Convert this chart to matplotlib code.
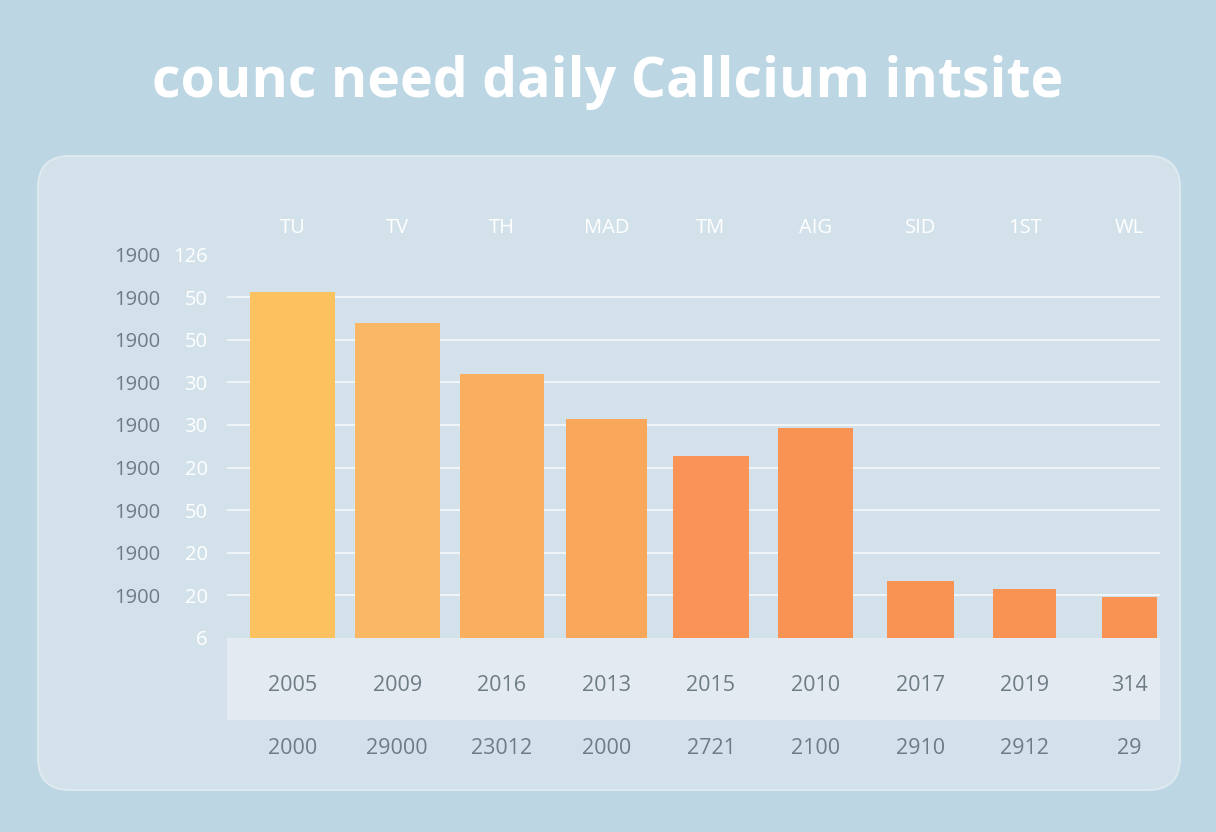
import matplotlib
matplotlib.use("Agg")
import matplotlib.pyplot as plt
from matplotlib.patches import FancyBboxPatch, Rectangle
import matplotlib.transforms as mtransforms

# ---- data ----
title = "counc need daily Callcium intsite"
categories = ["TU", "TV", "TH", "MAD", "TM", "AIG", "SID", "1ST", "WL"]
values = [8.12, 7.39, 6.20, 5.14, 4.27, 4.93, 1.34, 1.15, 0.96]
years_row1 = ["2005", "2009", "2016", "2013", "2015", "2010", "2017", "2019", "314"]
years_row2 = ["2000", "29000", "23012", "2000", "2721", "2100", "2910", "2912", "29"]
ytick_labels = ["6", "20", "20", "50", "20", "30", "30", "50", "50", "126"]
ytick_left = ["", "1900", "1900", "1900", "1900", "1900", "1900", "1900", "1900", "1900"]

# ---- styles ----
bar_colors = ["#fcc25f", "#fab864", "#f9af5e", "#f9a75b", "#f99456",
              "#f99354", "#f99354", "#f99354", "#f99354"]
bar_widths = [0.82, 0.81, 0.80, 0.78, 0.73, 0.72, 0.64, 0.60, 0.53]
BG = "#bcd6e4"
PANEL = "#d3e2ea"
BAND = "#e3eaf1"
GRAY = "#6f7c86"
FONT = ["Open Sans", "DejaVu Sans"]

W, H = 1216, 832
fig = plt.figure(figsize=(W / 100, H / 100), dpi=100, facecolor=BG)

# panel (pixel coordinates)
panel = FancyBboxPatch((38, H - 790), 1180 - 38, 790 - 156,
                       boxstyle="round,pad=0,rounding_size=32",
                       transform=None, facecolor=PANEL,
                       edgecolor="#dde9ef", linewidth=1.5, zorder=0)
fig.add_artist(panel)

fig.text(608 / W, 1 - 82 / H, title, ha="center", va="center",
         color="white", fontsize=40, fontweight="bold", family=FONT)

# axes
ax_left, ax_right = 227, 1160
ax_top, ax_bottom = 246, 770
ax = fig.add_axes([ax_left / W, 1 - ax_bottom / H,
                   (ax_right - ax_left) / W, (ax_bottom - ax_top) / H])
ax.set_facecolor("none")
for s in ax.spines.values():
    s.set_visible(False)

n = len(categories)
x = list(range(n))
ax.set_xlim(-0.627, 8.293)
ax.set_ylim(-3.1, 9.2)

# gridlines
for g in range(1, 9):
    ax.axhline(g, color="white", lw=1.1, alpha=0.85, zorder=1)

ax.bar(x, values, width=bar_widths, color=bar_colors, zorder=2)

# band below bars
ax.add_patch(Rectangle((0, -1.925), 1, 1.925,
                       transform=mtransforms.blended_transform_factory(ax.transAxes, ax.transData),
                       facecolor=BAND, edgecolor="none", zorder=1))

# top category labels
ax.xaxis.tick_top()
ax.set_xticks(x)
ax.set_xticklabels(categories, color="white", fontsize=14.5, family=FONT)
ax.tick_params(axis="x", length=0, pad=6)

# y tick labels
ax.set_yticks(range(len(ytick_labels)))
ax.set_yticklabels(ytick_labels, color="white", fontsize=14.5, family=FONT)
ax.tick_params(axis="y", length=0, pad=14)

trans_left = mtransforms.blended_transform_factory(fig.transFigure, ax.transData)
for i, lab in enumerate(ytick_left):
    if lab:
        fig.text(137 / W, i - 0.06, lab, transform=trans_left, ha="center", va="center",
                 color=GRAY, fontsize=14.5, family=FONT)

for xi, a, b in zip(x, years_row1, years_row2):
    ax.text(xi, -1.127, a, ha="center", va="center", color=GRAY,
            fontsize=15.5, family=FONT, zorder=3)
    ax.text(xi, -2.606, b, ha="center", va="center", color=GRAY,
            fontsize=15.5, family=FONT, zorder=3, clip_on=False)

fig.savefig("out.png", dpi=100, facecolor=BG)
